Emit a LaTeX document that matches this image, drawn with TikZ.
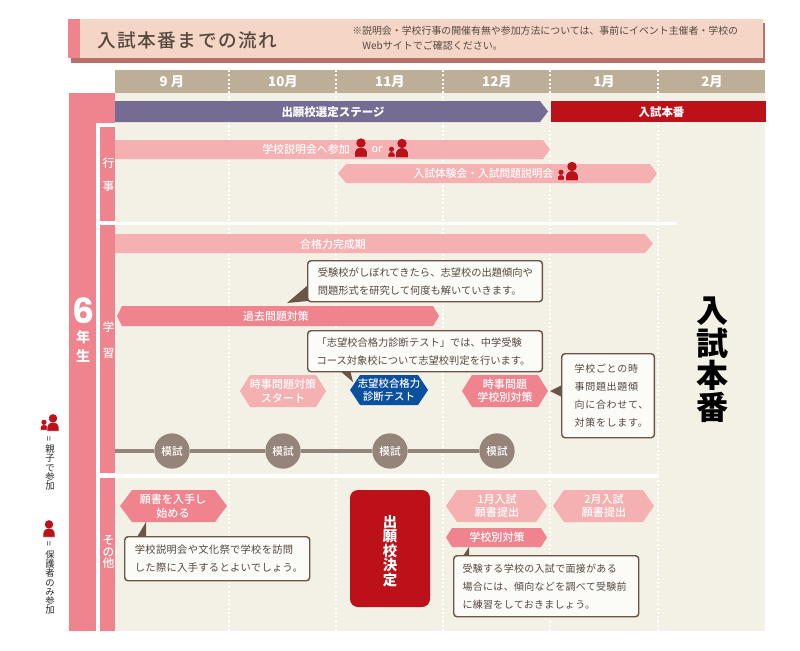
\documentclass[tikz,border=0pt]{standalone}
\usepackage{fontspec}
\usepackage{graphicx}
\setmainfont{Noto Sans CJK JP}
\newfontfamily\jp{Noto Sans CJK JP}
\newfontfamily\jpm{Noto Sans CJK JP Medium}
\newfontfamily\jpk{Noto Sans CJK JP Black}
\newfontfamily\jpls[LetterSpace=8]{Noto Sans CJK JP Medium}
\newfontfamily\jpw[LetterSpace=7]{Noto Sans CJK JP}
\newfontfamily\jpb[LetterSpace=3]{Noto Sans CJK JP}
\newfontfamily\digitfont{Poppins}
\definecolor{pinkmain}{HTML}{F0848E}
\definecolor{pinklight}{HTML}{F5B0B1}
\definecolor{bgcream}{HTML}{F3F1E5}
\definecolor{monthband}{HTML}{BDAE97}
\definecolor{purplebar}{HTML}{746C92}
\definecolor{redmain}{HTML}{BC1118}
\definecolor{bluehex}{HTML}{0B4F9F}
\definecolor{mockgrey}{HTML}{958479}
\definecolor{titlebg}{HTML}{F5D6C6}
\definecolor{titleshadow}{HTML}{B57168}
\definecolor{calloutedge}{HTML}{6A5548}
\definecolor{textdark}{HTML}{55483F}
\newcommand{\fs}[2]{\fontsize{#1}{#2}\selectfont}
% x1, x2, y1, y2, left inset, right inset, colour
\newcommand{\hexshape}[7]{%
  \fill[#7] (#1,{(#3+#4)/2}) -- ({#1+#5},#3) -- ({#2-#6},#3) -- (#2,{(#3+#4)/2}) -- ({#2-#6},#4) -- ({#1+#5},#4) -- cycle;}
% centre x, bottom y, scale
\newcommand{\person}[3]{%
  \begin{scope}[shift={(#1,#2)},scale=#3]
    \filldraw[draw=white,line width=.35pt,fill=redmain] (-6.7,0) -- (-6.4,-5) .. controls (-6.2,-8) and (-4,-9) .. (-2,-9.5) -- (2,-9.5) .. controls (4,-9) and (6.2,-8) .. (6.4,-5) -- (6.7,0) -- cycle;
    \fill[redmain] (0,-14) circle (4.7);
  \end{scope}}
\tikzset{
  whitebold/.style={text=white,font=\jp\bfseries\fs{8.6}{11}},
  whitelabel/.style={text=white,font=\jpm\fs{8.2}{11},inner sep=0pt},
  hexlabel/.style={text=white,font=\jpm\fs{8.3}{10.2},align=center,inner sep=0pt},
  monthlabel/.style={text=white,font=\jp\bfseries\fs{10}{12},inner sep=0pt},
  divider/.style={white,line width=1.1pt,dash pattern=on 1.6pt off 1.6pt},
  callout/.style={draw=calloutedge,line width=1.1pt,fill=white!70!bgcream,rounded corners=2.5pt,inner sep=0pt,anchor=north west},
  callouttext/.style={text=textdark,font=\jp\fs{7.7}{13.5},align=left,inner sep=0pt,anchor=west},
  pointer/.style={fill=calloutedge},
  mock/.style={circle,fill=mockgrey,minimum size=26.5pt,inner sep=0pt,text=white,font=\jpm\fs{8}{10}},
  sidelabel/.style={text=white,font=\jpm\fs{8.6}{12},inner sep=0pt,align=center},
  legendtext/.style={text=black!85,font=\jp\fs{7}{6.85},inner sep=0pt,align=center},
}
\begin{document}
\begin{tikzpicture}[x=0.75pt,y=-0.75pt]
\useasboundingbox (0,0) rectangle (800,650);
% title band
\fill[titleshadow] (71,23) rectangle (765,63);
\fill[titlebg] (68,19) rectangle (763,58);
\fill[pinkmain] (68,19) rectangle (80,58);
\node[anchor=west,inner sep=0pt,text=textdark,font=\jpls\fs{14}{16}] (title) at (97,40) {入試本番までの流れ};
\node[anchor=west,inner sep=0pt,text=textdark,font=\jp\fs{7.43}{10}] (note1) at (352,31) {※説明会・学校行事の開催有無や参加方法については、事前にイベント主催者・学校の};
\node[anchor=west,inner sep=0pt,text=textdark,font=\jp\fs{7.5}{10}] (note2) at (362,46) {Webサイトでご確認ください。};
% backgrounds
\fill[monthband] (115,70) rectangle (765,93);
\fill[bgcream] (115,93) rectangle (765,631);
\fill[pinkmain] (69,93) rectangle (115,123);
\fill[pinkmain] (69,93) rectangle (96,631);
\fill[pinkmain] (100,127) rectangle (115,221);
\fill[pinkmain] (100,225) rectangle (115,473);
\fill[pinkmain] (100,478) rectangle (115,631);
% dividers
\foreach \dx in {229,336,443,550,658} \draw[divider] (\dx,70) -- (\dx,633);
\fill[white] (96,123) rectangle (115,127);
\fill[white] (100,222) rectangle (677,225);
\fill[white] (100,474) rectangle (659,478);
% months
\node[monthlabel] (m9) at (172,82) {9 月};
\node[monthlabel] (m10) at (283,82) {10月};
\node[monthlabel] (m11) at (390,82) {11月};
\node[monthlabel] (m12) at (497,82) {12月};
\node[monthlabel] (m1) at (604,82) {1月};
\node[monthlabel] (m2) at (712,82) {2月};
% stage bars
\hexshape{115}{548}{101}{122}{0}{8}{purplebar}
\node[whitebold,inner sep=0pt] (stage) at (333,112) {出願校選定ステージ};
\fill[redmain] (551,101) rectangle (766,122);
\node[whitebold,inner sep=0pt] (exam) at (661.5,112) {入試本番};
% event bars
\hexshape{115}{550}{140}{159}{0}{7}{pinklight}
\node[whitelabel] (setsumei) at (306,149.5) {学校説明会へ参加};
\person{361}{157}{1}
\node[text=white,font=\jpm\fs{8}{10},inner sep=0pt] (orword) at (377,149.5) {or};
\person{391.5}{157}{0.55}
\person{402}{157.5}{1}
\hexshape{338}{657}{164}{183}{8}{7}{pinklight}
\node[whitelabel,font=\jpm\fs{8.05}{11}] (taiken) at (483.5,173.5) {入試体験会・入試問題説明会};
\person{561}{180}{0.55}
\person{572}{180.5}{1}
\hexshape{115}{653}{234}{253}{0}{8}{pinklight}
\node[whitelabel] (kansei) at (333,244) {合格力完成期};
\hexshape{117}{439}{306}{326}{5}{6}{pinkmain}
\node[whitelabel] (kako) at (276,316) {過去問題対策};
% mock line
\node[mock] (mock1) at (172,451) {模試};
\node[mock] (mock2) at (283,451) {模試};
\node[mock] (mock3) at (390,451) {模試};
\node[mock] (mock4) at (497,451) {模試};
\coordinate (mockstart) at (115,451);
\draw[mockgrey,line width=3pt] (mockstart) -- (mock1) -- (mock2) -- (mock3) -- (mock4);
% hexes
\hexshape{240}{326}{375}{407}{10}{10}{pinklight}
\node[hexlabel] (jiji1) at (283,391) {時事問題対策\\スタート};
\hexshape{350}{428}{375}{405}{10}{10}{bluehex}
\node[hexlabel,font=\jpm\fs{7.8}{10}] (shindan) at (389,390) {志望校合格力\\診断テスト};
\hexshape{462}{548}{375}{407}{10}{10}{pinkmain}
\node[hexlabel] (jiji2) at (505,391) {時事問題\\学校別対策};
\hexshape{120}{227}{490}{522}{12}{12}{pinkmain}
\node[hexlabel] (gansho) at (173,506) {願書を入手し\\始める};
\hexshape{446}{547}{490}{522}{11}{11}{pinklight}
\node[hexlabel] (jan) at (497,506) {1月入試\\願書提出};
\hexshape{553}{654}{490}{522}{11}{11}{pinklight}
\node[hexlabel] (feb) at (604,506) {2月入試\\願書提出};
\hexshape{446}{547}{528}{547}{6}{6}{pinkmain}
\node[hexlabel] (betsu) at (497,537.5) {学校別対策};
% red box
\node[fill=redmain,rounded corners=6pt,minimum width=60pt,minimum height=87.75pt,inner sep=0pt] (kettei) at (390,548.5) {};
\node[inner sep=0pt,text=white,font=\jp\bfseries\fs{10.8}{10.9},align=center] (ketteitext) at (390,551) {出\\願\\校\\決\\定};
% pointers
\fill[pointer] (287,303) -- (308,285) -- (308,301) -- cycle;
\fill[pointer] (339,370) -- (350,370) -- (353,382) -- cycle;
\fill[pointer] (550,391) -- (562,385) -- (562,397) -- cycle;
\fill[pointer] (146,522) -- (146,537) -- (137,537) -- cycle;
\fill[pointer] (469,547) -- (469,556) -- (463,556) -- cycle;
% callouts
\node[callout,minimum width=176pt,minimum height=30.75pt] (cal1) at (307,260) {};
\node[callouttext] (cal1text) at ([xshift=8pt]cal1.west) {受験校がしぼれてきたら、志望校の出題傾向や\\問題形式を研究して何度も解いていきます。};
\node[callout,minimum width=176pt,minimum height=30.75pt] (cal2) at (307,330) {};
\node[callouttext] (cal2text) at ([xshift=7pt]cal2.west) {「志望校合格力診断テスト」では、中学受験\\コース対象校について志望校判定を行います。};
\node[callout,minimum width=69.5pt,minimum height=63pt] (cal3) at (561,353) {};
\node[callouttext,font=\jpw\fs{7.5}{13.6}] (cal3text) at ([xshift=10pt]cal3.west) {学校ごとの時\\事問題出題傾\\向に合わせて、\\対策をします。};
\node[callout,minimum width=138.75pt,minimum height=33pt] (cal4) at (124,536) {};
\node[callouttext,font=\jpb\fs{7.7}{13.5}] (cal4text) at ([xshift=8pt]cal4.west) {学校説明会や文化祭で学校を訪問\\した際に入手するとよいでしょう。};
\node[callout,minimum width=138.75pt,minimum height=45.75pt] (cal5) at (453,555) {};
\node[callouttext,font=\jpb\fs{7.5}{13.5}] (cal5text) at ([xshift=7pt]cal5.west) {受験する学校の入試で面接がある\\場合には、傾向などを調べて受験前\\に練習をしておきましょう。};
% side labels
\node[text=white,font=\digitfont\bfseries\fs{26}{26},inner sep=0pt,anchor=base] (six) at (83.5,323) {6};
\node[sidelabel,font=\jp\bfseries\fs{10.5}{14.3}] (nensei) at (83,346) {年\\生};
\node[sidelabel,font=\jpm\fs{8.6}{17.3}] (gyoji) at (108.5,174.5) {行\\事};
\node[sidelabel,font=\jpm\fs{8.6}{19}] (gakushu) at (108.5,340) {学\\習};
\node[sidelabel,font=\jpm\fs{8.8}{8.7}] (sonota) at (108.5,552) {そ\\の\\他};
% big label
\node[text=black,font=\jpk\fs{24}{24.2},inner sep=0pt,align=center] (honban) at (712,360) {入\\試\\本\\番};
% legend
\person{44}{430}{0.55}
\person{53}{431}{0.9}
\person{49}{537}{0.9}
\node[legendtext] (leg1) at (50,463) {\rotatebox{90}{=}\\[2pt]親\\子\\で\\参\\加};
\node[legendtext] (leg2) at (50,578) {\rotatebox{90}{=}\\[2pt]保\\護\\者\\の\\み\\参\\加};
\end{tikzpicture}
\end{document}
